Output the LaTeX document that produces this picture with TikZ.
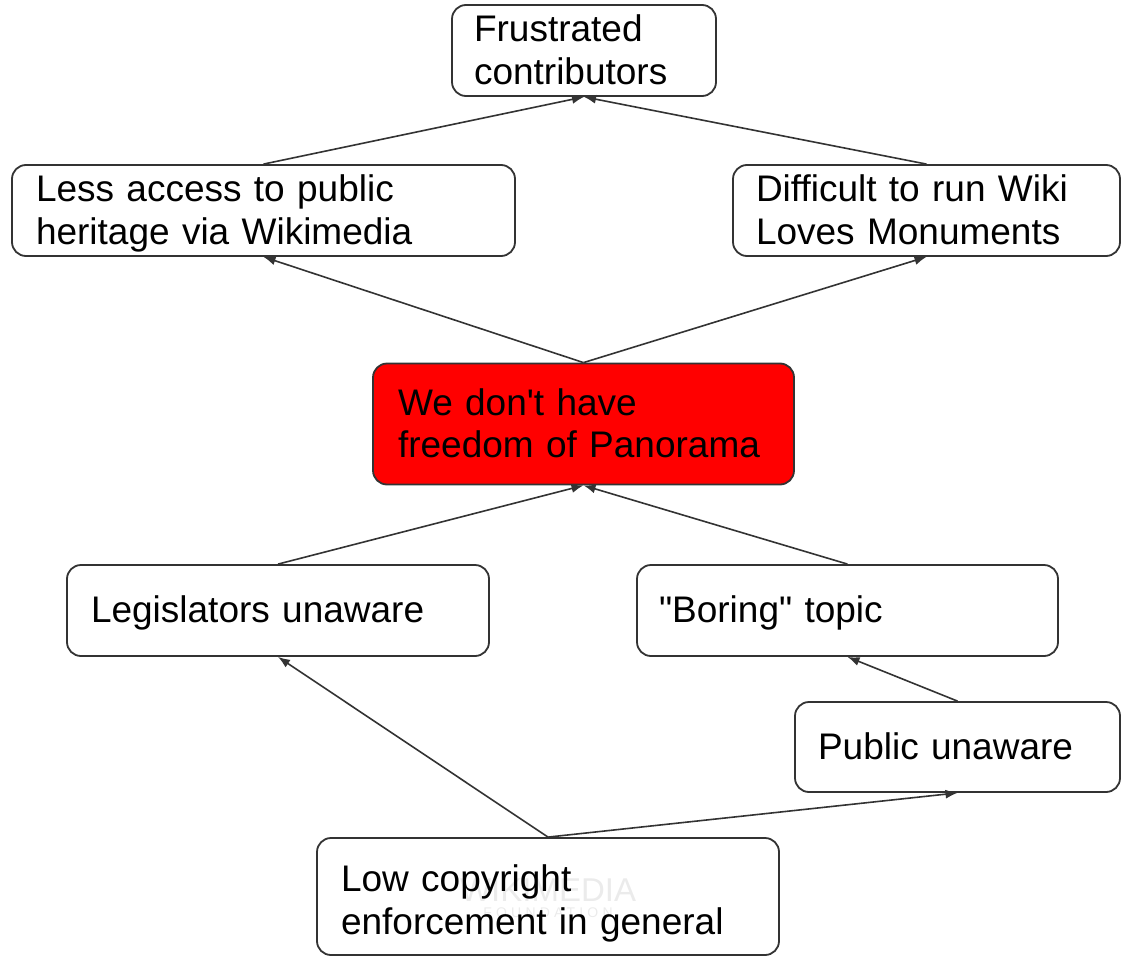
\documentclass[tikz,border=0pt]{standalone}
\usepackage{fontspec}
\setmainfont{Liberation Sans}[Ligatures=TeXOff]
\usetikzlibrary{arrows.meta}
\definecolor{edge}{HTML}{333333}
\definecolor{alarm}{HTML}{FF0000}
\definecolor{wmark}{HTML}{EBEBEB}
\newcommand\lnstrut{\rule[-8.8pt]{0pt}{42.5pt}}
\newcommand\tallstrut{\rule[-8.8pt]{0pt}{50.5pt}}
\begin{document}
\begin{tikzpicture}[x=1pt,y=-1pt,
  box/.style={draw=edge, line width=1.8pt, rounded corners=14pt, inner sep=0pt,
    align=left, font=\fontsize{37}{42.5}\selectfont, text=black},
  link/.style={draw=edge, line width=1.6pt, -{Latex[length=12pt,width=9pt]}},
  watermark/.style={text=wmark, inner sep=0pt}]
\useasboundingbox (0,0) rectangle (1124,958);
% watermark behind the bottom box
\node[watermark, font=\fontsize{33}{33}\selectfont] (wm1) at (548,890) {WIKIMEDIA};
\node[watermark, font=\fontsize{14}{14}\selectfont\addfontfeature{LetterSpace=30}] (wm2) at (548,913) {FOUNDATION};
% boxes
\node[box, minimum width=264pt, minimum height=91pt, text width=220pt] (fc) at (584,50.5) {\lnstrut Frustrated\\\lnstrut contributors};
\node[box, minimum width=503pt, minimum height=91pt, text width=455pt] (la) at (263.5,210.5) {\lnstrut Less access to public\\\lnstrut heritage via Wikimedia};
\node[box, minimum width=387pt, minimum height=91pt, text width=341pt] (dw) at (926.5,210.5) {\lnstrut Difficult to run Wiki\\\lnstrut Loves Monuments};
\node[box, fill=alarm, minimum width=421pt, minimum height=121pt, text width=371pt] (fop) at (583.5,424) {\lnstrut We don't have\\\lnstrut freedom of Panorama};
\node[box, minimum width=422pt, minimum height=91pt, text width=374pt] (leg) at (278,610.5) {\lnstrut Legislators unaware};
\node[box, minimum width=421pt, minimum height=91pt, text width=377pt] (bor) at (847.5,610.5) {\lnstrut "Boring" topic};
\node[box, minimum width=325pt, minimum height=90pt, text width=279pt] (pub) at (957.5,747) {\lnstrut Public unaware};
\node[box, minimum width=462pt, minimum height=117pt, text width=414pt] (low) at (548,896.5) {\tallstrut Low copyright\\\lnstrut enforcement in general};
% connectors
\draw[link] (la.north) -- (fc.south);
\draw[link] (dw.north) -- (fc.south);
\draw[link] (fop.north) -- (la.south);
\draw[link] (fop.north) -- (dw.south);
\draw[link] (leg.north) -- (fop.south);
\draw[link] (bor.north) -- (fop.south);
\draw[link] (low.north) -- (leg.south);
\draw[link] (low.north) -- (pub.south);
\draw[link] (pub.north) -- (bor.south);
\end{tikzpicture}
\end{document}
